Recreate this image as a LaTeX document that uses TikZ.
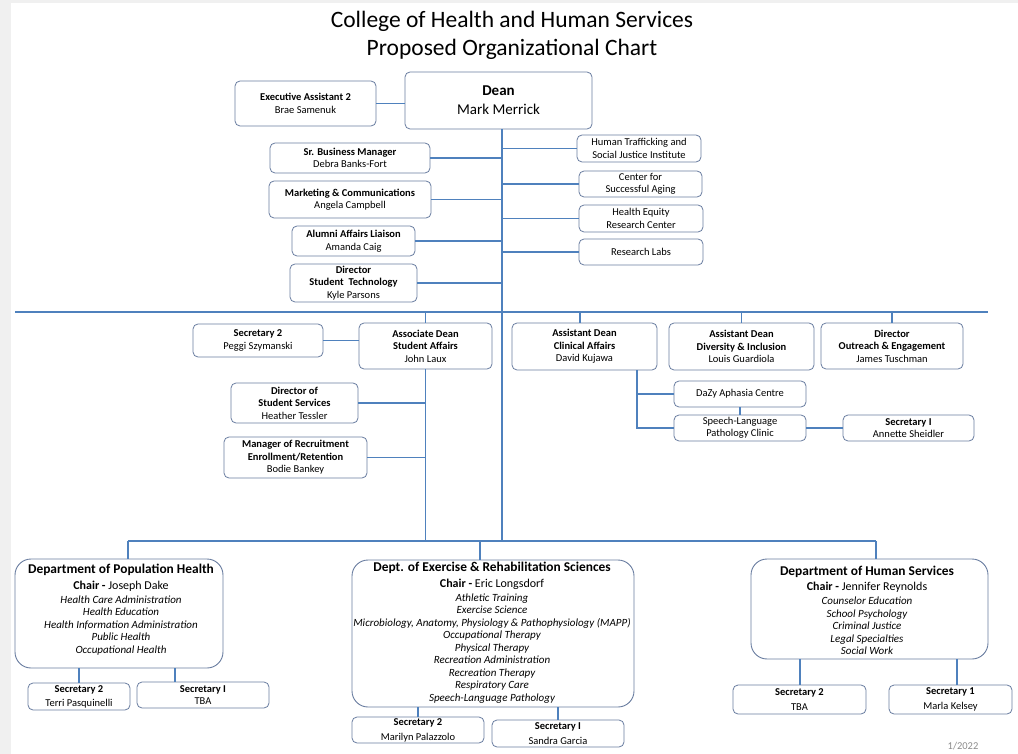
\documentclass[tikz,border=0pt]{standalone}
\usepackage{fontspec}
\setmainfont{Carlito}
\definecolor{ln}{RGB}{79,129,189}
\definecolor{bd}{RGB}{105,125,160}
\definecolor{strip}{RGB}{240,240,240}
\begin{document}
\begin{tikzpicture}[x=1pt,y=-1pt,
  box/.style={draw=bd, line width=0.8pt, rounded corners=5pt, inner sep=0pt, align=center, font=\fontsize{10.5}{12.5}\selectfont},
  deptbox/.style={draw=bd, line width=0.9pt, rounded corners=16pt, inner sep=0pt},
  depttext/.style={inner sep=0pt, align=center, anchor=north, font=\fontsize{11}{12.5}\selectfont},
  conn/.style={draw=ln, line width=1.2pt},
  thick conn/.style={draw=ln, line width=2pt}]
\useasboundingbox (0,0) rectangle (1018,754);
\fill[white] (0,0) rectangle (1018,754);
\fill[strip] (0,0) rectangle (11,754);
\fill[strip] (0,0) rectangle (1018,3);

% title
\node[align=center, font=\fontsize{23.5}{28}\selectfont, inner sep=0pt] (title) at (512,35) {College of Health and Human Services\\Proposed Organizational Chart};

% top level
\node[box, minimum width=187pt, minimum height=57pt, font=\fontsize{15}{19}\selectfont] (dean) at (498.5,100.5) {\textbf{Dean}\\Mark Merrick};
\node[box, minimum width=141pt, minimum height=45pt] (exec) at (305.5,103.5) {\textbf{Executive Assistant 2}\\Brae Samenuk};

\node[box, minimum width=160pt, minimum height=30pt] (sbm) at (350,158) {\textbf{Sr. Business Manager}\\Debra Banks-Fort};
\node[box, minimum width=162pt, minimum height=37pt] (mkt) at (350,199.5) {\textbf{Marketing \& Communications}\\Angela Campbell};
\node[box, minimum width=123pt, minimum height=30pt] (alum) at (353.5,241) {\textbf{Alumni Affairs Liaison}\\Amanda Caig};
\node[box, minimum width=127pt, minimum height=38pt] (dst) at (353.5,283) {\textbf{Director}\\\textbf{Student\ \ Technology}\\Kyle Parsons};

\node[box, minimum width=124pt, minimum height=27pt] (htsj) at (639,148.5) {Human Trafficking and\\Social Justice Institute};
\node[box, minimum width=123pt, minimum height=26pt] (csa) at (640.5,184) {Center for\\Successful Aging};
\node[box, minimum width=124pt, minimum height=27pt] (her) at (641,218.5) {Health Equity\\Research Center};
\node[box, minimum width=124pt, minimum height=26pt] (rl) at (641,252) {Research Labs};

% second level
\node[box, minimum width=130pt, minimum height=33pt] (sec2) at (258,340.5) {\textbf{Secretary 2}\\Peggi Szymanski};
\node[box, minimum width=133pt, minimum height=46pt] (ads) at (425.5,346) {\textbf{Associate Dean}\\\textbf{Student Affairs}\\John Laux};
\node[box, minimum width=127pt, minimum height=40pt] (dss) at (294.5,403) {\textbf{Director of}\\\textbf{Student Services}\\Heather Tessler};
\node[box, minimum width=143pt, minimum height=41pt] (mre) at (295.5,457.5) {\textbf{Manager of Recruitment}\\\textbf{Enrollment/Retention}\\Bodie Bankey};

\node[box, minimum width=145pt, minimum height=47pt] (adc) at (584.5,346.5) {\textbf{Assistant Dean}\\\textbf{Clinical Affairs}\\David Kujawa};
\node[box, minimum width=145pt, minimum height=47pt] (add) at (741.5,346.5) {\textbf{Assistant Dean}\\\textbf{Diversity \& Inclusion}\\Louis Guardiola};
\node[box, minimum width=142pt, minimum height=46pt] (doe) at (892,346) {\textbf{Director}\\\textbf{Outreach \& Engagement}\\James Tuschman};

\node[box, minimum width=132pt, minimum height=26pt] (dazy) at (740,394) {DaZy Aphasia Centre};
\node[box, minimum width=132pt, minimum height=26pt] (slp) at (740,428) {Speech-Language\\Pathology Clinic};
\node[box, minimum width=131pt, minimum height=26pt] (seci) at (908.5,428) {\textbf{Secretary I}\\Annette Sheidler};

% departments
\node[deptbox, minimum width=208pt, minimum height=109pt] (pop) at (119,613.5) {};
\node[depttext] (popT) at (121,564) {{\fontsize{13.4}{15}\selectfont\textbf{Department of Population Health}}\\[3pt]
{\fontsize{12}{14}\selectfont\textbf{Chair -} Joseph Dake}\\[1.5pt]
\itshape Health Care Administration\\\itshape Health Education\\\itshape Health Information Administration\\\itshape Public Health\\\itshape Occupational Health};

\node[deptbox, minimum width=282pt, minimum height=147pt] (ex) at (493,633.5) {};
\node[depttext] (exT) at (492,562) {{\fontsize{13.4}{15}\selectfont\textbf{Dept. of Exercise \& Rehabilitation Sciences}}\\[3pt]
{\fontsize{12}{14}\selectfont\textbf{Chair -} Eric Longsdorf}\\[1.5pt]
\itshape Athletic Training\\\itshape Exercise Science\\\itshape Microbiology, Anatomy, Physiology \& Pathophysiology (MAPP)\\\itshape Occupational Therapy\\\itshape Physical Therapy\\\itshape Recreation Administration\\\itshape Recreation Therapy\\\itshape Respiratory Care\\\itshape Speech-Language Pathology};

\node[deptbox, minimum width=237pt, minimum height=100pt] (hs) at (869.5,609) {};
\node[depttext] (hsT) at (867,565.5) {{\fontsize{13.4}{15}\selectfont\textbf{Department of Human Services}}\\[3pt]
{\fontsize{12}{14}\selectfont\textbf{Chair -} Jennifer Reynolds}\\[1.5pt]
\itshape Counselor Education\\\itshape School Psychology\\\itshape Criminal Justice\\\itshape Legal Specialties\\\itshape Social Work};

% department secretaries
\node[box, minimum width=102pt, minimum height=27pt, font=\fontsize{10.5}{14}\selectfont] (sp2) at (79,696.5) {\textbf{Secretary 2}\\Terri Pasquinelli};
\node[box, minimum width=132pt, minimum height=26pt, font=\fontsize{10.5}{11.5}\selectfont] (sp1) at (203,695) {\textbf{Secretary I}\\TBA};
\node[box, minimum width=132pt, minimum height=26pt, font=\fontsize{10.5}{15}\selectfont] (se2) at (418,730) {\textbf{Secretary 2}\\Marilyn Palazzolo};
\node[box, minimum width=132pt, minimum height=27pt, font=\fontsize{10.5}{15.5}\selectfont] (se1) at (558,733.5) {\textbf{Secretary I}\\Sandra Garcia};
\node[box, minimum width=133pt, minimum height=29pt, font=\fontsize{10.5}{15.5}\selectfont] (sh2) at (799.5,699.5) {\textbf{Secretary 2}\\TBA};
\node[box, minimum width=123pt, minimum height=29pt, font=\fontsize{10.5}{15.5}\selectfont] (sh1) at (950.5,699.5) {\textbf{Secretary 1}\\Marla Kelsey};

\node[inner sep=0pt, text=black!45, font=\fontsize{10.5}{12}\selectfont] (date) at (963,746) {1/2022};

% coordinates for buses
\coordinate (spine) at (502,541);
\coordinate (busL) at (15,312);
\coordinate (busR) at (988,312);
\coordinate (botL) at (128,541);
\coordinate (botR) at (876,541);
\coordinate (exv) at (480,541);
\coordinate (clin) at (637,427);
\coordinate (adcv) at (580,312);
\coordinate (sp1v) at (175,668);
\coordinate (sh1v) at (957,659);

% connectors
\draw[conn] (exec.east) -- (exec.east -| dean.west);
\draw[conn] (dean.south -| spine) -- (spine);
\foreach \n in {sbm,mkt,alum,dst} \draw[conn] (\n.east) -- (\n.east -| spine);
\foreach \n in {htsj,csa,her,rl} \draw[conn] (\n.west) -- (\n.west -| spine);
\draw[conn] (busL) -- (busR);
\draw[conn] (ads.north |- busL) -- (ads.north);
\draw[conn] (adcv) -- (adcv |- adc.north);
\draw[conn] (add.north |- busL) -- (add.north);
\draw[conn] (doe.north |- busL) -- (doe.north);
\draw[conn] (sec2.east) -- (sec2.east -| ads.west);
\draw[conn] (ads.south) -- (ads.south |- botL);
\draw[conn] (dss.east) -- (dss.east -| ads.south);
\draw[conn] (mre.east) -- (mre.east -| ads.south);
\draw[conn] (adc.south -| clin) -- (clin |- slp.west) -- (slp.west);
\draw[conn] (dazy.west) -- (dazy.west -| clin);
\draw[conn] (dazy.south) -- (slp.north);
\draw[conn] (slp.east) -- (seci.west);
\draw[conn] (botL) -- (botR);
\draw[conn] (botL) -- (botL |- pop.north);
\draw[conn] (exv) -- (exv |- ex.north);
\draw[conn] (botR) -- (botR |- hs.north);
\draw[conn] (pop.south -| sp2.north) -- (sp2.north);
\draw[thick conn] (sp1v) -- (sp1v |- sp1.north);
\draw[conn] (ex.south -| se2.north) -- (se2.north);
\draw[conn] (ex.south -| se1.north) -- (se1.north);
\draw[thick conn] (hs.south -| sh2.north) -- (sh2.north);
\draw[thick conn] (sh1v) -- (sh1v |- sh1.north);
\end{tikzpicture}
\end{document}
